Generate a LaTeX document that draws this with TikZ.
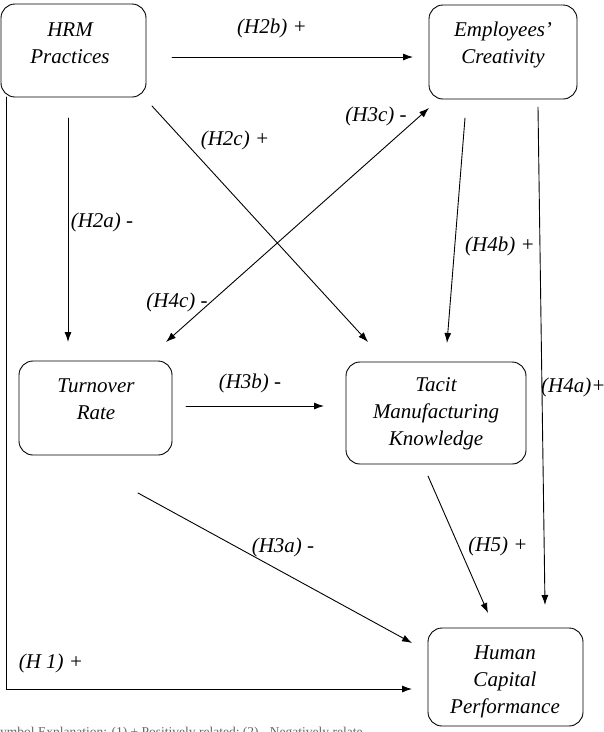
\documentclass[tikz,border=0pt]{standalone}
\usepackage{fontspec}
\setmainfont{Liberation Serif}
\usetikzlibrary{arrows.meta}
\tikzset{
  rbox/.style={draw, rounded corners=14pt, line width=0.9pt, inner sep=0pt},
  txt/.style={font=\fontsize{21}{27}\selectfont\itshape, align=center, inner sep=0pt},
  hyp/.style={font=\fontsize{21}{25}\selectfont\itshape, inner sep=0pt},
  link/.style={line width=0.9pt, -{Latex[length=10pt,width=7pt]}},
  both/.style={line width=0.9pt, {Latex[length=10pt,width=7pt]}-{Latex[length=10pt,width=7pt]}},
}
\begin{document}
\begin{tikzpicture}[x=1pt,y=-1pt,line cap=round]
  \useasboundingbox (0,0) rectangle (604,732);
  % boxes
  \node[rbox, minimum width=145, minimum height=93] (hrm) at (73.5,50.5) {};
  \node[rbox, minimum width=148, minimum height=94] (crea) at (503,52) {};
  \node[rbox, minimum width=153, minimum height=94] (turn) at (95.5,408) {};
  \node[rbox, minimum width=180, minimum height=102] (tacit) at (436,413) {};
  \node[rbox, minimum width=155, minimum height=98] (hcp) at (505.5,677) {};
  \node[txt] (hrm-t) at (70,43.5) {HRM\\Practices};
  \node[txt] (crea-t) at (503,44.5) {Employees'\\Creativity};
  \node[txt] (turn-t) at (96,399) {Turnover\\Rate};
  \node[txt] (tacit-t) at (436,413.5) {Tacit\\Manufacturing\\Knowledge};
  \node[txt] (hcp-t) at (505,682) {Human\\Capital\\Performance};
  % arrow ends
  \coordinate (h1-a) at (6,97);     \coordinate (h1-b) at (412,689);
  \coordinate (h2b-a) at (172,57);  \coordinate (h2b-b) at (413,57);
  \coordinate (h2a-a) at (68,118);  \coordinate (h2a-b) at (68,342);
  \coordinate (h2c-a) at (152,106); \coordinate (h2c-b) at (368,342);
  \coordinate (h3c-a) at (166,342); \coordinate (h3c-b) at (429,108);
  \coordinate (h4b-a) at (465,118); \coordinate (h4b-b) at (447,343);
  \coordinate (h4a-a) at (538,107); \coordinate (h4a-b) at (545,605);
  \coordinate (h3b-a) at (186,406); \coordinate (h3b-b) at (324,406);
  \coordinate (h3a-a) at (138,493); \coordinate (h3a-b) at (412,643);
  \coordinate (h5-a) at (428,476);  \coordinate (h5-b) at (488,613);
  \draw[link] (h1-a) |- (h1-b);
  \draw[link] (h2b-a) -- (h2b-b);
  \draw[link] (h2a-a) -- (h2a-b);
  \draw[link] (h2c-a) -- (h2c-b);
  \draw[both] (h3c-a) -- (h3c-b);
  \draw[link] (h4b-a) -- (h4b-b);
  \draw[link] (h4a-a) -- (h4a-b);
  \draw[link] (h3b-a) -- (h3b-b);
  \draw[link] (h3a-a) -- (h3a-b);
  \draw[link] (h5-a) -- (h5-b);
  % hypothesis labels
  \node[hyp] (l2b) at (272,28) {(H2b) +};
  \node[hyp] (l2c) at (235,140) {(H2c) +};
  \node[hyp] (l3c) at (376,116) {(H3c) -};
  \node[hyp] (l2a) at (102,222) {(H2a) -};
  \node[hyp] (l4c) at (177,302) {(H4c) -};
  \node[hyp] (l4b) at (500,246) {(H4b) +};
  \node[hyp, anchor=west] (l4a) at (541,387) {(H4a)+};
  \node[hyp] (l3b) at (250,383) {(H3b) -};
  \node[hyp] (l3a) at (283,547) {(H3a) -};
  \node[hyp] (l5) at (498,546) {(H5) +};
  \node[hyp] (l1) at (51,663) {(H 1) +};
  \node[font=\fontsize{13.5}{15}\selectfont, text=black!60, anchor=base west, inner sep=0pt] (note)
    at (-7.5,736) {Symbol Explanation: (1) + Positively related; (2) - Negatively relate};
\end{tikzpicture}
\end{document}
